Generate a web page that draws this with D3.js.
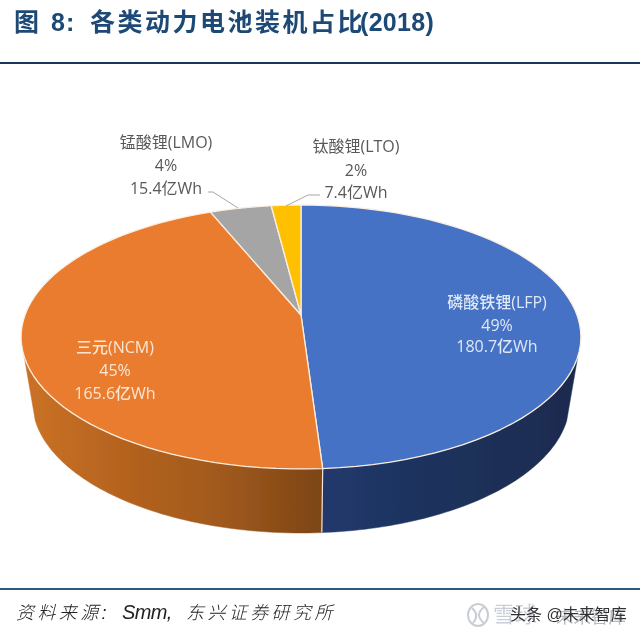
<!DOCTYPE html>
<html><head><meta charset="utf-8">
<script src="https://cdn.jsdelivr.net/npm/d3@7"></script>
<style>html,body{margin:0;padding:0;background:#fff}svg{display:block}</style>
</head><body><div id="c"></div>
<script>
const categories = ["磷酸铁锂(LFP)","三元(NCM)","锰酸锂(LMO)","钛酸锂(LTO)"];
const values = [180.7,165.6,15.4,7.4];
const percents = ["49%","45%","4%","2%"];
const amounts = ["180.7亿Wh","165.6亿Wh","15.4亿Wh","7.4亿Wh"];
const colors = ["#4472c4","#e97c2d","#a5a5a5","#ffc000"];
const labelX = [497,115,166,356];
const labelY = [[308,331,352],[353,376,399],[148,171,194],[152,176,198]];
const labelColors = ["#dfe8f6","#fbe6d3","#595959","#595959"];
const W=640,H=636;
const svg=d3.select("#c").append("svg").attr("width",W).attr("height",H);
const defs=svg.append("defs");
const blur=defs.append("filter").attr("id","soft").attr("x","-5%").attr("y","-5%").attr("width","110%").attr("height","110%");
blur.append("feGaussianBlur").attr("stdDeviation",0.5);
const root=svg.append("g").attr("filter","url(#soft)");
const sans='"Liberation Sans","Noto Sans CJK SC",sans-serif';

// title
const title=root.append("text").attr("y",31).attr("fill","#1f4a75").attr("font-family",sans)
  .attr("font-weight",700).attr("font-size",25);
[["图",14,0],["8:",51,1],["各类动力电池装机占比",90,2.5],["(2018)",360,0.3]].forEach(([s,x,ls])=>
  title.append("tspan").attr("x",x).attr("letter-spacing",ls).text(s));
root.append("rect").attr("x",0).attr("y",62).attr("width",W).attr("height",2).attr("fill","#17375e");
root.append("rect").attr("x",0).attr("y",588).attr("width",W).attr("height",2).attr("fill","#2f5a7e");

// source
const src=root.append("text").attr("y",619).attr("fill","#222").attr("font-family",sans).attr("font-style","italic");
[["资料来源:",16,18,3.4,300],["Smm,",122,20,-0.6,400],["东兴证券研究所",186,18,3.4,300]].forEach(([s,x,fs,ls,fw])=>
  src.append("tspan").attr("x",x).attr("font-size",fs).attr("letter-spacing",ls).attr("font-weight",fw).text(s));

// pie geometry, projected through a perspective mapping
const cx=301, cy=315, A=276, B=128.3, c=0.1667, depth=64, lowerScale=0.96, sideStart=108*Math.PI/180;
const project=(a,dy=0,s=1)=>{const u=Math.sin(a),v=Math.cos(a),w=1+c*v;
  return [cx+s*A*u/w, cy-B*v/w+dy];};
const arcs=d3.pie().sort(null).value(d=>d)(values);
const line=d3.line();
const rim=(a0,a1,dy=0,s=1)=>d3.range(0,61).map(i=>project(a0+(a1-a0)*i/60,dy,s));

const g1=defs.append("linearGradient").attr("id","gOrange").attr("gradientUnits","userSpaceOnUse")
  .attr("x1",21).attr("x2",323).attr("y1",0).attr("y2",0);
["#cc7226","#b5631f","#a0591c","#7c4516"].forEach((col,i)=>g1.append("stop").attr("offset",i/3).attr("stop-color",col));
const g2=defs.append("linearGradient").attr("id","gBlue").attr("gradientUnits","userSpaceOnUse")
  .attr("x1",323).attr("x2",581).attr("y1",0).attr("y2",0);
["#21396c","#1e335f","#1c2f56","#1a2b4e"].forEach((col,i)=>g2.append("stop").attr("offset",i/3).attr("stop-color",col));
const side=(a0,a1,fill)=>{const top=rim(a0,a1),bot=rim(a0,a1,depth,lowerScale).reverse();
  root.append("path").attr("d",line(top.concat(bot))+"Z").attr("fill",fill).attr("stroke",fill).attr("stroke-width",0.5);};
side(sideStart,arcs[0].endAngle,"url(#gBlue)");
side(arcs[1].startAngle,2*Math.PI-sideStart,"url(#gOrange)");
const d0=project(arcs[0].endAngle), d1=project(arcs[0].endAngle,depth,lowerScale);
root.append("line").attr("x1",d0[0]).attr("y1",d0[1]).attr("x2",d1[0]).attr("y2",d1[1]).attr("stroke","#f3e4d6").attr("stroke-width",1.2);

// top faces
root.selectAll("path.slice").data(arcs).join("path").attr("class","slice")
  .attr("d",d=>line([[cx,cy]].concat(rim(d.startAngle,d.endAngle)))+"Z")
  .attr("fill",(d,i)=>colors[i]).attr("stroke","#fbeee0").attr("stroke-width",1.3).attr("stroke-linejoin","round");

// leader lines
[[[208,192],[213,192],[238,208]],[[320,195],[308,195],[286,206]]].forEach(p=>
  root.append("path").attr("d",line(p)).attr("fill","none").attr("stroke","#a6a6a6").attr("stroke-width",1));

// labels
categories.forEach((name,i)=>{
  const t=root.append("text").attr("text-anchor","middle").attr("font-family",'"Open Sans","Noto Sans CJK SC",sans-serif')
    .attr("font-size",16).attr("font-weight",i<2?500:400).attr("fill",labelColors[i]);
  [name,percents[i],amounts[i]].forEach((s,k)=>t.append("tspan").attr("x",labelX[i]).attr("y",labelY[i][k]).text(s));
});

// watermark
const wm=root.append("g").attr("font-family",sans);
wm.append("ellipse").attr("cx",478).attr("cy",615).attr("rx",10).attr("ry",11).attr("fill","none").attr("stroke","#c9ced6").attr("stroke-width",2);
wm.append("path").attr("d","M472 608Q480 615 473 623M484 607Q474 615 484 623").attr("fill","none").attr("stroke","#c9ced6").attr("stroke-width",2);
wm.append("text").attr("x",493).attr("y",622).attr("fill","#c9ced6").attr("font-size",22).text("雪球");
wm.append("text").attr("x",556).attr("y",623).attr("fill","#b5b9c0").attr("font-size",17.5).text("未来智库");
wm.append("text").attr("x",510).attr("y",620).attr("fill","#333").attr("font-size",16).text("头条 @未来智库");
</script></body></html>
